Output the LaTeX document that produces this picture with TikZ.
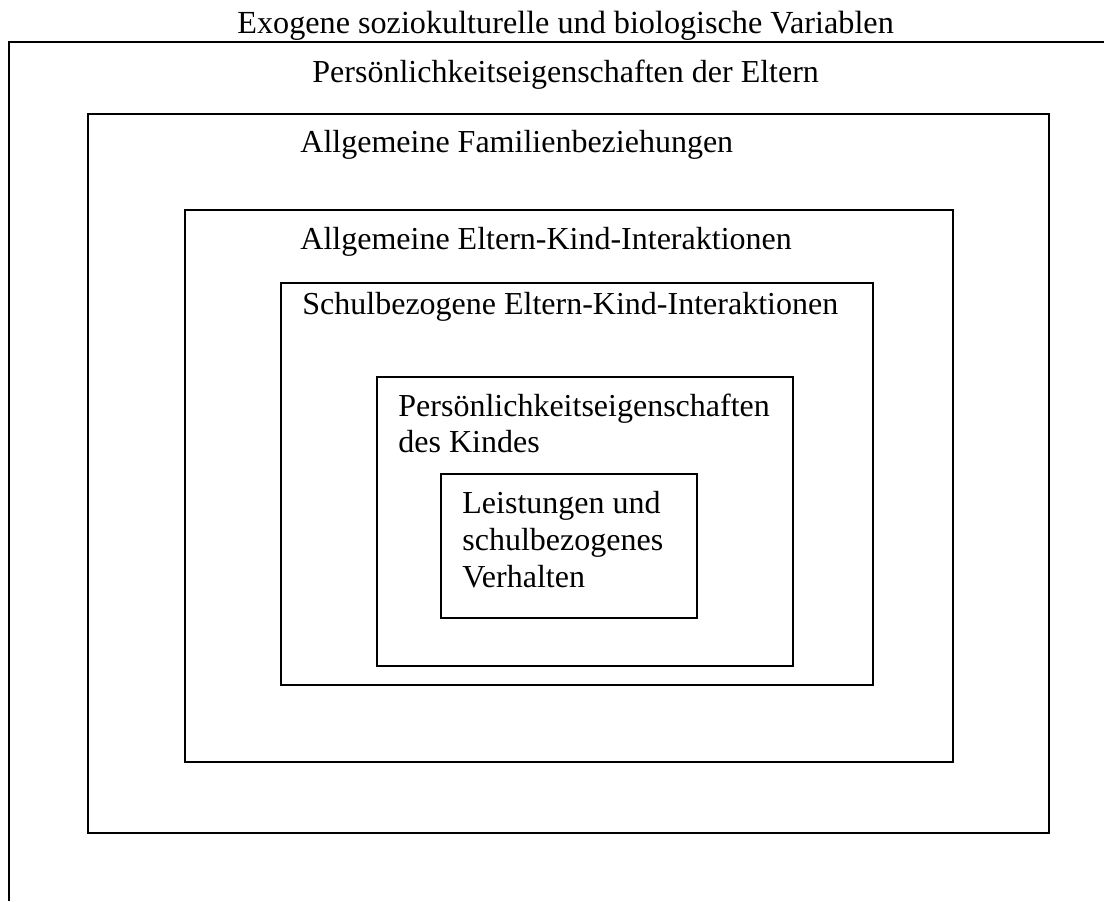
\documentclass[tikz,border=0pt]{standalone}
\usepackage{fontspec}
\setmainfont{Liberation Serif}
\begin{document}
\begin{tikzpicture}[x=0.5pt,y=-0.5pt,
  frame/.style={draw=black,line width=1pt},
  label/.style={anchor=base west,inner sep=0pt,font=\fontsize{16pt}{18.5pt}\selectfont}]
\useasboundingbox (0,0) rectangle (1104,901);
% open outer frame: top and left edges only
\draw[frame] (1104,41.5) -- (9,41.5) -- (9,901);
% nested boxes, outside to inside
\draw[frame] (88,114) rectangle (1049,833);
\draw[frame] (185,210) rectangle (953,762);
\draw[frame] (281,283) rectangle (873,685);
\draw[frame] (377,377) rectangle (793,666);
\draw[frame] (441,474) rectangle (697,618);
% labels
\node[label,font=\fontsize{16.1pt}{18.5pt}\selectfont] (exo) at (237,33) {Exogene soziokulturelle und biologische Variablen};
\node[label] (eltern) at (312,82) {Persönlichkeitseigenschaften der Eltern};
\node[label] (fam) at (300,152) {Allgemeine Familienbeziehungen};
\node[label] (eki) at (300,249) {Allgemeine Eltern-Kind-Interaktionen};
\node[label] (seki) at (302,314) {Schulbezogene Eltern-Kind-Interaktionen};
\node[label] (kind1) at (398,416) {Persönlichkeitseigenschaften};
\node[label] (kind2) at (398,452) {des Kindes};
\node[label] (leist1) at (462,513) {Leistungen und};
\node[label] (leist2) at (462,550) {schulbezogenes};
\node[label] (leist3) at (462,587) {Verhalten};
\end{tikzpicture}
\end{document}
